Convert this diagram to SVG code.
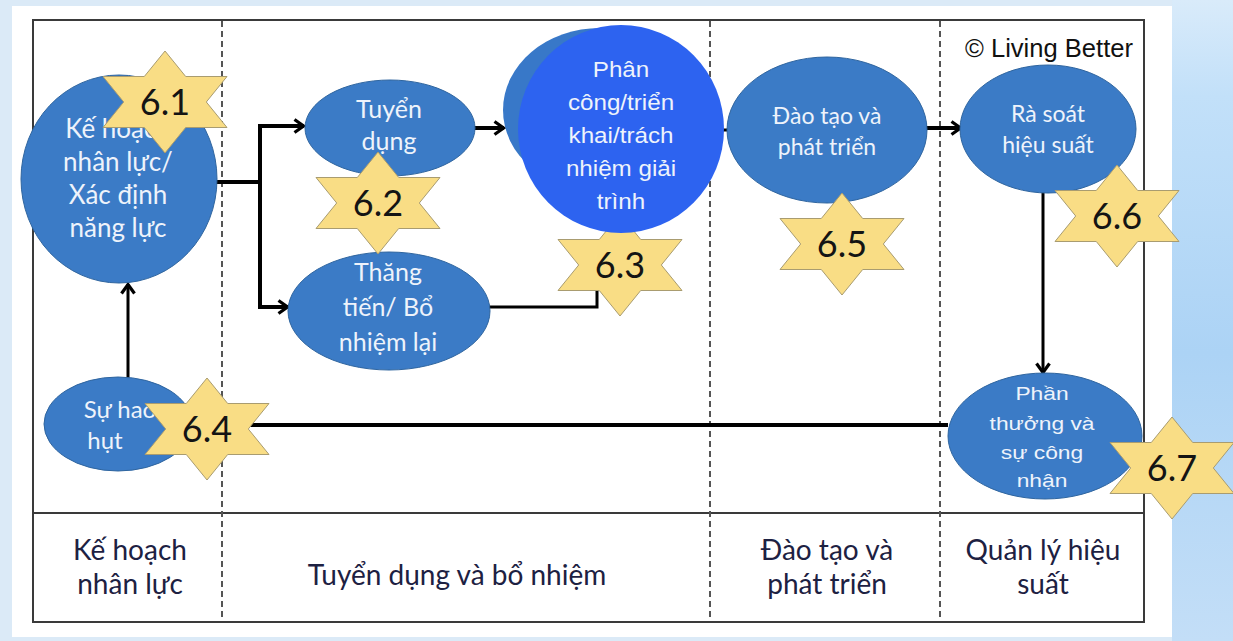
<svg xmlns="http://www.w3.org/2000/svg" xmlns:xlink="http://www.w3.org/1999/xlink" width="1233" height="641" viewBox="0 0 1233 641">
  <defs>
    <linearGradient id="sideBlue" x1="0" y1="0" x2="0" y2="1">
      <stop offset="0" stop-color="#d9ebfa"/>
      <stop offset="0.15" stop-color="#c2e0f9"/>
      <stop offset="0.55" stop-color="#acd3f5"/>
      <stop offset="1" stop-color="#c3def7"/>
    </linearGradient>
    <!-- six-pointed badge, centred on 0,0 -->
    <path id="star" d="M0,-51 L20.7,-25.5 L62,-25.5 L41.3,0 L62,25.5 L20.7,25.5 L0,51 L-20.7,25.5 L-62,25.5 L-41.3,0 L-62,-25.5 L-20.7,-25.5 Z"/>
    <marker id="chev" viewBox="0 0 14 16" refX="12" refY="8" markerWidth="14" markerHeight="16" markerUnits="userSpaceOnUse" orient="auto">
      <path d="M2.5,1.5 L11.5,8 L2.5,14.5" fill="none" stroke="#000" stroke-width="3.2" stroke-linejoin="miter"/>
    </marker>
  </defs>
  <style>
    .frame { fill: none; stroke: #3a3a3a; stroke-width: 2; }
    .lane { stroke: #555; stroke-width: 2; stroke-dasharray: 6 4; }
    .node { fill: #3b7bc6; stroke: #2f659f; stroke-width: 1; }
    .ntxt { font-family: Lato, "Open Sans", sans-serif; fill: #eef3fb; text-anchor: middle; }
    .atxt { font-family: "Liberation Sans", Arial, sans-serif; fill: #eef3fb; text-anchor: middle; }
    .badge use { fill: #f9dd85; stroke: #a99c70; stroke-width: 1; }
    .badge text { font-family: Lato, "Open Sans", sans-serif; font-size: 36px; fill: #141414; text-anchor: middle; }
    .lbl { font-family: Lato, "Open Sans", sans-serif; font-size: 28px; fill: #1d2142; text-anchor: middle; }
    .wire { fill: none; stroke: #000; stroke-width: 4; }
    .thin { fill: none; stroke: #000; stroke-width: 3; }
  </style>

  <!-- page background -->
  <rect x="0" y="0" width="1233" height="641" fill="#dbeaf7"/>
  <rect x="1172" y="0" width="61" height="641" fill="url(#sideBlue)"/>
  <rect x="12" y="6" width="1160" height="631" fill="#ffffff"/>

  <!-- swimlane frame -->
  <g id="frame">
    <rect class="frame" x="33" y="20" width="1111" height="602"/>
    <line class="frame" x1="33" y1="513" x2="1144" y2="513"/>
    <line class="lane" x1="222" y1="21" x2="222" y2="621"/>
    <line class="lane" x1="710" y1="21" x2="710" y2="621"/>
    <line class="lane" x1="940" y1="21" x2="940" y2="621"/>
  </g>

  <text x="1049" y="57" font-family="'Liberation Sans', Arial, sans-serif" font-size="25" fill="#111" text-anchor="middle" textLength="168" lengthAdjust="spacingAndGlyphs">© Living Better</text>

  <!-- connectors -->
  <g id="connectors">
    <polyline class="wire" points="216,182 260,182"/>
    <polyline class="wire" points="260,180 260,126 304,126" marker-end="url(#chev)"/>
    <polyline class="wire" points="260,180 260,307 288,307" marker-end="url(#chev)"/>
    <line class="wire" x1="474" y1="128" x2="504" y2="128" marker-end="url(#chev)"/>
    <polyline class="thin" points="488,307 597,307 597,288"/>
    <line class="thin" x1="723" y1="130" x2="730" y2="130"/>
    <line class="wire" x1="926" y1="128" x2="961" y2="128" marker-end="url(#chev)"/>
    <line class="thin" x1="1043" y1="192" x2="1043" y2="373" marker-end="url(#chev)"/>
    <line class="wire" x1="948" y1="425" x2="240" y2="425"/>
    <line class="thin" x1="128" y1="378" x2="128" y2="284" marker-end="url(#chev)"/>
  </g>

  <!-- badge under the assignment node -->
  <g id="badge-6-3" class="badge">
    <use xlink:href="#star" href="#star" transform="translate(620,265)"/>
    <text x="620" y="278">6.3</text>
  </g>

  <!-- process nodes -->
  <g id="node-hr-planning">
    <ellipse class="node" cx="119" cy="179" rx="98" ry="104"/>
    <text class="ntxt" font-size="26" x="118" y="138">Kế hoạch</text>
    <text class="ntxt" font-size="26" x="118" y="171">nhân lực/</text>
    <text class="ntxt" font-size="26" x="118" y="204">Xác định</text>
    <text class="ntxt" font-size="26" x="118" y="237">năng lực</text>
  </g>

  <g id="node-recruitment">
    <ellipse class="node" cx="390" cy="128" rx="85" ry="48"/>
    <text class="ntxt" font-size="25" x="389" y="118">Tuyển</text>
    <text class="ntxt" font-size="25" x="389" y="150">dụng</text>
  </g>

  <g id="node-promotion">
    <ellipse class="node" cx="389" cy="311" rx="101" ry="59"/>
    <text class="ntxt" font-size="25" x="388" y="281">Thăng</text>
    <text class="ntxt" font-size="25" x="388" y="316">tiến/ Bổ</text>
    <text class="ntxt" font-size="25" x="388" y="351">nhiệm lại</text>
  </g>

  <g id="node-assignment">
    <ellipse cx="600" cy="110" rx="97" ry="82" fill="#3878c8"/>
    <ellipse cx="621" cy="129" rx="103" ry="104" fill="#2d63f0"/>
    <g class="atxt" font-size="22">
      <text transform="translate(621,77) scale(1.1,1)">Phân</text>
      <text transform="translate(621,110) scale(1.1,1)">công/triển</text>
      <text transform="translate(621,143) scale(1.1,1)">khai/trách</text>
      <text transform="translate(621,176) scale(1.1,1)">nhiệm giải</text>
      <text transform="translate(621,209) scale(1.1,1)">trình</text>
    </g>
  </g>

  <g id="node-training">
    <ellipse class="node" cx="827" cy="130" rx="100" ry="73"/>
    <text class="ntxt" font-size="23" x="827" y="124">Đào tạo và</text>
    <text class="ntxt" font-size="23" x="827" y="155">phát triển</text>
  </g>

  <g id="node-review">
    <ellipse class="node" cx="1048" cy="129" rx="88" ry="64"/>
    <text class="ntxt" font-size="23" x="1048" y="122">Rà soát</text>
    <text class="ntxt" font-size="23" x="1048" y="153">hiệu suất</text>
  </g>

  <g id="node-reward">
    <ellipse class="node" cx="1045" cy="436" rx="97" ry="63"/>
    <g class="atxt" font-size="19">
      <text transform="translate(1042,400) scale(1.2,1)">Phần</text>
      <text transform="translate(1042,430) scale(1.2,1)">thưởng và</text>
      <text transform="translate(1042,459) scale(1.2,1)">sự công</text>
      <text transform="translate(1042,487) scale(1.2,1)">nhận</text>
    </g>
  </g>

  <g id="node-attrition">
    <ellipse class="node" cx="118" cy="424" rx="74" ry="47"/>
    <text class="ntxt" font-size="24" x="120" y="418">Sự hao</text>
    <text class="ntxt" font-size="24" x="105" y="449">hụt</text>
  </g>

  <!-- numbered badges -->
  <g id="badge-6-1" class="badge">
    <use xlink:href="#star" href="#star" transform="translate(165,102)"/>
    <text x="165" y="115">6.1</text>
  </g>
  <g id="badge-6-2" class="badge">
    <use xlink:href="#star" href="#star" transform="translate(378,203)"/>
    <text x="378" y="216">6.2</text>
  </g>
  <g id="badge-6-4" class="badge">
    <use xlink:href="#star" href="#star" transform="translate(207,429)"/>
    <text x="207" y="442">6.4</text>
  </g>
  <g id="badge-6-5" class="badge">
    <use xlink:href="#star" href="#star" transform="translate(842,244)"/>
    <text x="842" y="257">6.5</text>
  </g>
  <g id="badge-6-6" class="badge">
    <use xlink:href="#star" href="#star" transform="translate(1117,216)"/>
    <text x="1117" y="229">6.6</text>
  </g>
  <g id="badge-6-7" class="badge">
    <use xlink:href="#star" href="#star" transform="translate(1172,468)"/>
    <text x="1172" y="481">6.7</text>
  </g>

  <!-- lane captions -->
  <g id="lane-captions">
    <text class="lbl" x="130" y="560">Kế hoạch</text>
    <text class="lbl" x="130" y="594">nhân lực</text>
    <text class="lbl" x="457" y="585">Tuyển dụng và bổ nhiệm</text>
    <text class="lbl" x="827" y="560">Đào tạo và</text>
    <text class="lbl" x="827" y="594">phát triển</text>
    <text class="lbl" x="1043" y="560">Quản lý hiệu</text>
    <text class="lbl" x="1043" y="594">suất</text>
  </g>
</svg>
